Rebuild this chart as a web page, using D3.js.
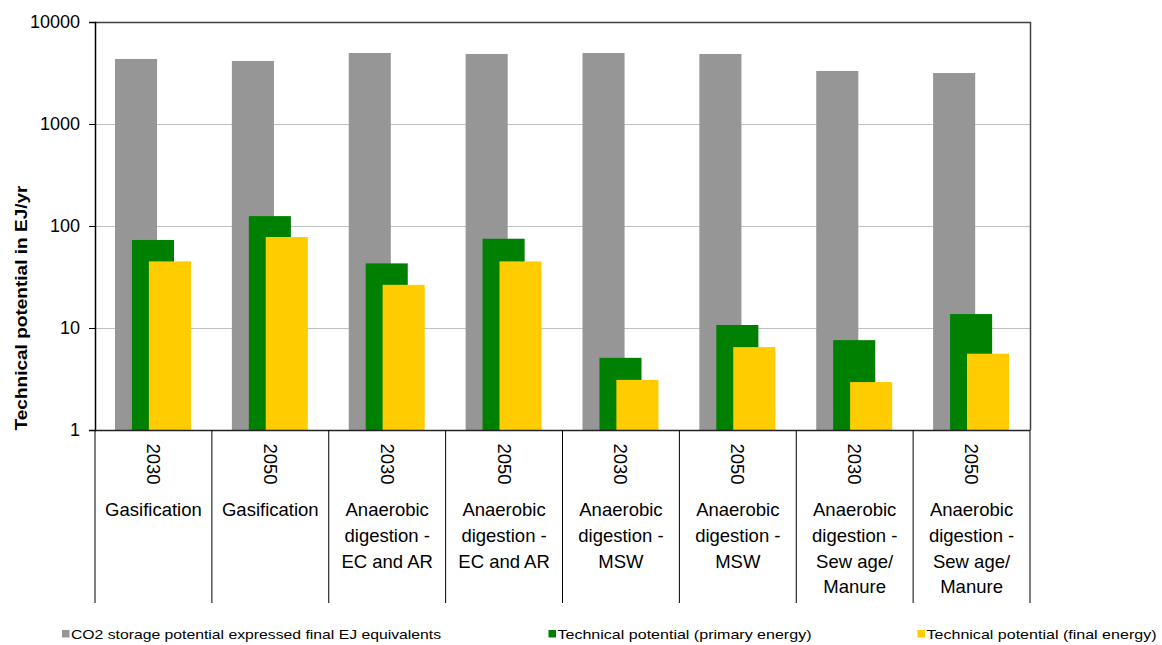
<!DOCTYPE html>
<html>
<head>
<meta charset="utf-8">
<script src="https://cdn.jsdelivr.net/npm/d3@7/dist/d3.min.js"></script>
<style>
  html, body { margin: 0; padding: 0; background: #ffffff; }
  svg { display: block; font-family: "Liberation Sans", Arial, sans-serif; }
</style>
</head>
<body>
<svg id="chart" width="1162" height="645"></svg>
<script>
// Pathway labels: year (rotated) and technology (wrapped lines)
const years = ["2030", "2050", "2030", "2050", "2030", "2050", "2030", "2050"];
const technologies = [
  ["Gasification"],
  ["Gasification"],
  ["Anaerobic", "digestion -", "EC and AR"],
  ["Anaerobic", "digestion -", "EC and AR"],
  ["Anaerobic", "digestion -", "MSW"],
  ["Anaerobic", "digestion -", "MSW"],
  ["Anaerobic", "digestion -", "Sew age/", "Manure"],
  ["Anaerobic", "digestion -", "Sew age/", "Manure"]
];

// Values in EJ/yr
const co2Storage    = [4340, 4150, 4970, 4860, 4970, 4860, 3310, 3160];
const primaryEnergy = [73, 125, 43, 75, 5.1, 10.7, 7.6, 13.7];
const finalEnergy   = [45, 78, 26.5, 45, 3.1, 6.5, 2.95, 5.6];

const seriesNames = [
  "CO2 storage potential expressed final EJ equivalents",
  "Technical potential (primary energy)",
  "Technical potential (final energy)"
];
const seriesColors = ["#969696", "#008000", "#ffcc00"];
const yTicks = [1, 10, 100, 1000, 10000];

const svg = d3.select("#chart");
const plotLeft = 95, plotRight = 1030, plotTop = 22, plotBottom = 430, labelBottom = 603;

const x = d3.scaleBand().domain(d3.range(years.length)).range([plotLeft, plotRight]).padding(0);
const y = d3.scaleLog().domain([1, 10000]).range([plotBottom, plotTop]);

const bw = x.bandwidth();
const barW = bw * 0.36;
const barOffset = d3.scaleLinear().domain([0, 2]).range([bw * 0.171, bw * 0.171 + 2 * bw * 0.145]);

// gridlines
svg.append("g").selectAll("line")
  .data(yTicks.filter(t => t > 1 && t < 10000))
  .join("line")
  .attr("x1", plotLeft).attr("x2", plotRight)
  .attr("y1", d => Math.round(y(d)) + 0.5).attr("y2", d => Math.round(y(d)) + 0.5)
  .attr("stroke", "#c0c0c0").attr("stroke-width", 1);

// bars, drawn back to front
const series = [co2Storage, primaryEnergy, finalEnergy];
series.forEach((vals, si) => {
  svg.append("g").selectAll("rect")
    .data(vals)
    .join("rect")
    .attr("x", (d, i) => x(i) + barOffset(si))
    .attr("width", barW)
    .attr("y", d => y(d))
    .attr("height", d => y(1) - y(d))
    .attr("fill", seriesColors[si]);
});

// plot frame (top and right)
svg.append("path")
  .attr("d", `M${plotLeft},${plotTop + 0.5}H${plotRight + 0.5}V${plotBottom}`)
  .attr("fill", "none").attr("stroke", "#404040").attr("stroke-width", 1.5);

// y axis
const yAxis = d3.axisLeft(y)
  .tickValues(yTicks)
  .tickFormat(d3.format("d"))
  .tickSize(6)
  .tickPadding(9);
const gy = svg.append("g").attr("transform", `translate(${plotLeft},0)`).call(yAxis);
gy.select(".domain").attr("stroke", "#000").attr("stroke-width", 1.5);
gy.selectAll(".tick line").attr("stroke", "#000");
gy.selectAll(".tick text")
  .attr("font-size", 18)
  .attr("font-family", "Liberation Sans, Arial, sans-serif")
  .attr("fill", "#000");

// category axis baseline
svg.append("line")
  .attr("x1", plotLeft).attr("x2", plotRight)
  .attr("y1", plotBottom + 0.5).attr("y2", plotBottom + 0.5)
  .attr("stroke", "#222").attr("stroke-width", 1.5);

// category separators
svg.append("g").selectAll("line")
  .data(d3.range(years.length + 1))
  .join("line")
  .attr("x1", i => (i < years.length ? x(i) : plotRight))
  .attr("x2", i => (i < years.length ? x(i) : plotRight))
  .attr("y1", plotBottom).attr("y2", labelBottom)
  .attr("stroke", "#000").attr("stroke-width", 1);

// rotated year labels
svg.append("g").selectAll("text")
  .data(years)
  .join("text")
  .attr("transform", (d, i) => `translate(${x(i) + bw / 2},464) rotate(90)`)
  .attr("text-anchor", "middle")
  .attr("dominant-baseline", "central")
  .attr("font-size", 18.5)
  .attr("fill", "#000")
  .text(d => d);

// technology labels
const techG = svg.append("g");
technologies.forEach((lines, i) => {
  techG.append("text")
    .attr("x", x(i) + bw / 2)
    .attr("y", 516)
    .attr("text-anchor", "middle")
    .attr("font-size", 18.5)
    .attr("fill", "#000")
    .selectAll("tspan")
    .data(lines)
    .join("tspan")
    .attr("x", x(i) + bw / 2)
    .attr("dy", (d, k) => (k === 0 ? 0 : 25.8))
    .text(d => d);
});

// y axis title
svg.append("text")
  .attr("transform", "translate(27,308) rotate(-90)")
  .attr("text-anchor", "middle")
  .attr("font-size", 16.5)
  .attr("font-weight", "bold")
  .attr("fill", "#000")
  .attr("textLength", 245)
  .attr("lengthAdjust", "spacingAndGlyphs")
  .text("Technical potential in EJ/yr");

// legend
const legendX = [62, 548.5, 917.5];
const legendW = [370, 254, 230];
const legend = svg.append("g");
seriesNames.forEach((name, i) => {
  legend.append("rect")
    .attr("x", legendX[i]).attr("y", 630)
    .attr("width", 7.5).attr("height", 7.5)
    .attr("fill", seriesColors[i]);
  legend.append("text")
    .attr("x", legendX[i] + 9).attr("y", 638.5)
    .attr("font-size", 13.5)
    .attr("fill", "#000")
    .attr("textLength", legendW[i])
    .attr("lengthAdjust", "spacingAndGlyphs")
    .text(name);
});
</script>
</body>
</html>
